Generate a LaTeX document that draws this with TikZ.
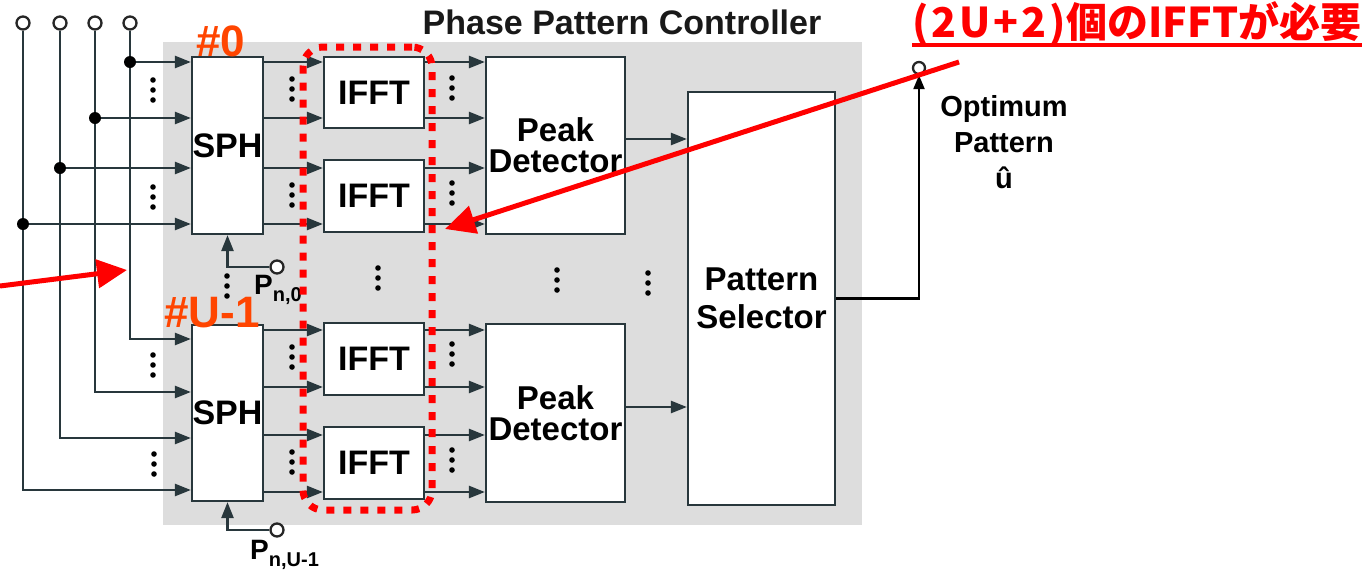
\documentclass[tikz,border=0pt]{standalone}
\usepackage{fontspec}
\setmainfont{Liberation Sans}
\newfontfamily\cjk{Noto Sans CJK JP}
\usetikzlibrary{arrows.meta,calc}
\definecolor{bggray}{RGB}{221,221,221}
\definecolor{wirec}{RGB}{40,55,60}
\definecolor{hashc}{RGB}{255,69,0}
\newcommand\fs[1]{\fontsize{#1}{#1}\selectfont}
\begin{document}
\begin{tikzpicture}[x=1pt,y=-1pt,
  box/.style={draw=wirec, line width=2.2pt, fill=white, inner sep=0pt, align=center, font=\bfseries\fs{34}},
  arr/.style={draw=wirec, line width=2.5pt, -{Triangle[length=16pt,width=12pt]}},
  pin/.style={circle, draw=black!85, fill=white, line width=2.3pt, minimum size=13pt, inner sep=0pt},
  jdot/.style={circle, fill=black, minimum size=12pt, inner sep=0pt},
  hashlbl/.style={text=hashc, font=\bfseries\fs{44}, inner sep=0pt},
  redarr/.style={draw=red, line width=5pt, -{Triangle[length=30pt,width=28pt]}},
  vd/.pic={\foreach \d in {-10,0,10} \fill[black] (0,\d) circle (2.8pt);}
]
\useasboundingbox (0,0) rectangle (1364,571);
\fill[bggray] (163,42) rectangle (862,525);
\node[font=\bfseries\fs{34}, text=black!90, inner sep=0pt] (title) at (622,22) {Phase Pattern Controller};

% boxes
\node[box, minimum width=71pt, minimum height=177pt] (sph0) at (227.5,145.5) {SPH};
\node[box, minimum width=71pt, minimum height=176pt] (sphU) at (227.5,413) {SPH};
\node[box, minimum width=100pt, minimum height=71pt] (ifft1) at (374,92.5) {IFFT};
\node[box, minimum width=100pt, minimum height=72pt] (ifft2) at (374,196) {IFFT};
\node[box, minimum width=100pt, minimum height=72pt] (ifft3) at (374,359) {IFFT};
\node[box, minimum width=100pt, minimum height=72pt] (ifft4) at (374,463) {IFFT};
\node[box, minimum width=139pt, minimum height=177pt, font=\bfseries\fontsize{33}{31}\selectfont] (pd1) at (555.5,145.5) {Peak\\Detector};
\node[box, minimum width=139pt, minimum height=178pt, font=\bfseries\fontsize{33}{31}\selectfont] (pd2) at (555.5,413) {Peak\\Detector};
\node[box, minimum width=147pt, minimum height=413pt, font=\bfseries\fontsize{33}{38}\selectfont] (ps) at (761.5,298.5) {Pattern\\Selector};

% inputs
\node[pin] (inA) at (23,23) {};
\node[pin] (inB) at (60,23) {};
\node[pin] (inC) at (95,23) {};
\node[pin] (inD) at (130,23) {};
\coordinate (cA) at (23,490);
\coordinate (cB) at (60,438);
\coordinate (cC) at (95,392);
\coordinate (cD) at (130,339);
\draw[arr] (inA) |- (sphU.west |- cA);
\draw[arr] (inB) |- (sphU.west |- cB);
\draw[arr] (inC) |- (sphU.west |- cC);
\draw[arr] (inD) |- (sphU.west |- cD);
\node[jdot] (jD) at (130,62) {};
\node[jdot] (jC) at (95,118) {};
\node[jdot] (jB) at (60,168) {};
\node[jdot] (jA) at (23,224) {};
\foreach \j in {jA,jB,jC,jD} \draw[arr] (\j) -- (sph0.west |- \j);

% SPH0 -> IFFT -> PD
\foreach \j/\f in {jD/ifft1, jC/ifft1, jB/ifft2, jA/ifft2} {
  \draw[arr] (sph0.east |- \j) -- (\f.west |- \j);
  \draw[arr] (\f.east |- \j) -- (pd1.west |- \j);
}
% SPHU -> IFFT -> PD
\coordinate (yU1) at (0,330);
\coordinate (yU2) at (0,387);
\coordinate (yU3) at (0,435);
\coordinate (yU4) at (0,492);
\foreach \j/\f in {yU1/ifft3, yU2/ifft3, yU3/ifft4, yU4/ifft4} {
  \draw[arr] (sphU.east |- \j) -- (\f.west |- \j);
  \draw[arr] (\f.east |- \j) -- (pd2.west |- \j);
}
% PD -> PS
\coordinate (q1) at (0,139);
\coordinate (q2) at (0,407);
\draw[arr] (pd1.east |- q1) -- (ps.west |- q1);
\draw[arr] (pd2.east |- q2) -- (ps.west |- q2);

% output
\node[pin, minimum size=12pt] (out) at (919,68) {};
\draw[draw=black, line width=2.2pt, -{Triangle[length=14pt,width=11pt]}] (ps.east) -| (out);
\node[font=\bfseries\fontsize{29}{36}\selectfont, align=center, anchor=north, inner sep=0pt] (optl) at (1004,95) {Optimum\\Pattern\\û};

% P inputs
\node[pin] (p0) at (277,267) {};
\draw[arr] (p0) -| (sph0.south);
\node[anchor=north west, inner sep=0pt, font=\bfseries\fs{28}] (p0l) at (254,275) {P\raisebox{-7pt}{\fs{20}n,0}};
\node[pin] (pU) at (277,530) {};
\draw[arr] (pU) -| (sphU.south);
\node[anchor=north west, inner sep=0pt, font=\bfseries\fs{28}] (pUl) at (250,540) {P\raisebox{-7pt}{\fs{20}n,U-1}};

% vertical dots
\foreach \p in {(153,90),(153,197),(153,365),(154,464),
                (292,89),(292,195),(292,357),(292,462),
                (452,88),(452,193),(452,354),(452,460),
                (378,278),(557,280),(648,283),(227,286)}
  \pic at \p {vd};

% labels
\node[hashlbl] (h0) at (221,41) {\#0};
\node[hashlbl] (hU) at (212,313) {\#U-1};

% red group
\node[draw=red, line width=7pt, dash pattern=on 8pt off 9pt, rounded corners=20pt,
      minimum width=129pt, minimum height=463pt, inner sep=0pt] (grp) at (367.5,278.5) {};

% red annotations
\coordinate (tR) at (959,62);
\coordinate (hR) at (445,229);
\draw[redarr] (tR) -- (hR);
\coordinate (tL) at (0,286);
\coordinate (hL) at (127,270);
\draw[redarr] (tL) -- (hL);
\node[anchor=base west, inner sep=0pt, text=red, font=\cjk\bfseries\fs{41}] (note) at (912,37)
  {(\kern3pt2\kern3ptU\kern3pt+\kern3pt2\kern3pt)個のIFFTが必要};
\draw[red, line width=4pt] ($(note.base west)+(0,8)$) -- ($(note.base east)+(0,8)$);
\end{tikzpicture}
\end{document}
